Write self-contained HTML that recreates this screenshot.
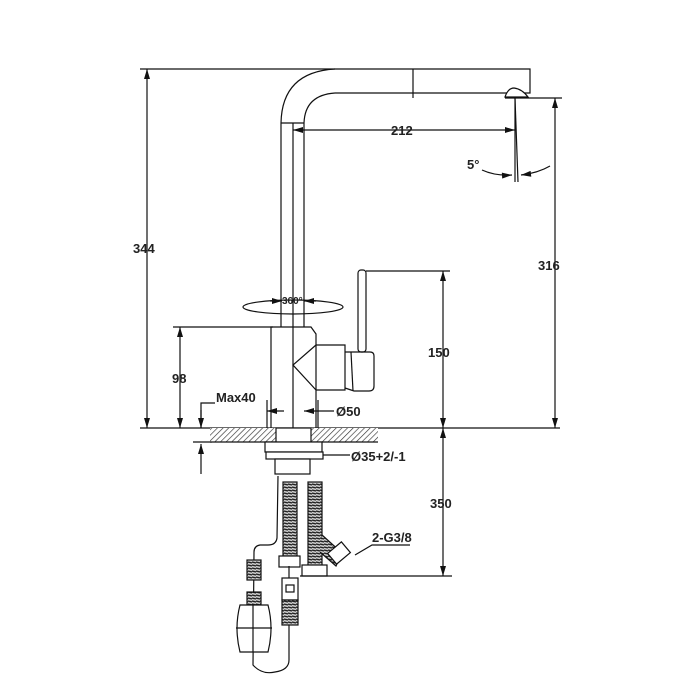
<!DOCTYPE html>
<html><head><style>html,body{margin:0;padding:0;background:#fff}svg{display:block}text{font-family:"Liberation Sans",Arial,sans-serif;font-weight:bold;fill:#222}</style></head>
<body>
<svg width="700" height="700" viewBox="0 0 700 700" xmlns="http://www.w3.org/2000/svg">
<defs>
<marker id="a" viewBox="0 0 10 6" refX="10" refY="3" markerWidth="9" markerHeight="5" orient="auto-start-reverse"><path d="M0,0 L10,3 L0,6 z" fill="#111"/></marker>
<pattern id="h" width="4" height="4" patternUnits="userSpaceOnUse" patternTransform="rotate(45)"><rect width="4" height="4" fill="#fff"/><line x1="0" y1="0" x2="0" y2="4" stroke="#333" stroke-width="1.3"/></pattern>
<pattern id="c" width="4" height="3" patternUnits="userSpaceOnUse"><rect width="4" height="3" fill="#ccc"/><line x1="0" y1="1" x2="4" y2="2" stroke="#222" stroke-width="1.4"/></pattern>
</defs>
<g stroke="#111" stroke-width="1.2" fill="none">
<line x1="140" y1="69" x2="335" y2="69"/>
<line x1="140" y1="428" x2="560" y2="428"/>
<line x1="147" y1="69" x2="147" y2="428" marker-start="url(#a)" marker-end="url(#a)"/>
<line x1="505" y1="98" x2="562" y2="98"/>
<line x1="555" y1="98" x2="555" y2="428" marker-start="url(#a)" marker-end="url(#a)"/>
<path d="M335,69 L530,69 L530,93 L335,93"/>
<line x1="413" y1="69" x2="413" y2="98"/>
<path d="M335,69 Q282,72 281,123 L281,327"/>
<path d="M335,93 Q305,95 304,123 L304,327"/>
<line x1="281" y1="123" x2="304" y2="123"/>
<line x1="293" y1="123" x2="293" y2="428"/>
<path d="M505,97 Q508,88 514,88 Q522,89 528,97 z" fill="#fff"/>
<line x1="293" y1="130" x2="515" y2="130" marker-start="url(#a)" marker-end="url(#a)"/>
<line x1="515" y1="98" x2="518" y2="182"/>
<line x1="515" y1="98" x2="515" y2="182"/>
<path d="M482,170 Q495,176 512,175" marker-end="url(#a)"/>
<path d="M550,166 Q538,173 521,175" marker-end="url(#a)"/>
<rect x="358" y="270" width="8" height="82" rx="3" fill="#fff"/>
<line x1="366" y1="271" x2="450" y2="271"/>
<line x1="443" y1="271" x2="443" y2="428" marker-start="url(#a)" marker-end="url(#a)"/>
<ellipse cx="293" cy="307" rx="50" ry="7"/>
<line x1="270" y1="301" x2="282" y2="301" marker-end="url(#a)"/>
<line x1="316" y1="301" x2="304" y2="301" marker-end="url(#a)"/>
<path d="M271,327 L311,327 L316,334 L316,428 L271,428 z" fill="#fff"/>
<line x1="293" y1="327" x2="293" y2="428"/>
<path d="M316,345 L345,345 L345,390 L316,390"/>
<path d="M316,345 L293,365 L316,390"/>
<path d="M345,352 L370,352 Q374,352 374,356 L374,386 Q374,391 369,391 L354,391 L345,388"/>
<line x1="351" y1="352" x2="353" y2="391"/>
<line x1="173" y1="327" x2="273" y2="327"/>
<line x1="180" y1="327" x2="180" y2="428" marker-start="url(#a)" marker-end="url(#a)"/>
<polyline points="201,428 201,403 215,403"/>
<line x1="201" y1="410" x2="201" y2="428" marker-end="url(#a)"/>
<line x1="201" y1="474" x2="201" y2="444" marker-end="url(#a)"/>
<line x1="193" y1="442" x2="212" y2="442"/>
<line x1="267" y1="400" x2="267" y2="428"/>
<line x1="318" y1="400" x2="318" y2="428"/>
<line x1="267" y1="411" x2="284" y2="411" marker-start="url(#a)"/>
<line x1="304" y1="411" x2="334" y2="411" marker-start="url(#a)"/>
<rect x="210" y="428" width="168" height="14" fill="url(#h)" stroke="none"/>
<line x1="210" y1="442" x2="378" y2="442"/>
<rect x="276" y="428" width="35" height="14" fill="#fff"/>
<rect x="265" y="442" width="57" height="10" fill="#fff"/>
<rect x="266" y="452" width="57" height="7" fill="#fff"/>
<rect x="275" y="459" width="35" height="15" fill="#fff"/>
<line x1="323" y1="455" x2="350" y2="455"/>
<rect x="283" y="482" width="14" height="74" fill="url(#c)"/>
<rect x="279" y="556" width="21" height="11" fill="#fff"/>
<rect x="308" y="482" width="14" height="84" fill="url(#c)"/>
<path d="M322,535 L342,553 L336,566 L320,552" fill="url(#c)"/>
<rect x="330" y="546" width="18" height="14" transform="rotate(-40 339 553)" fill="#fff"/>
<rect x="302" y="565" width="25" height="11" fill="#fff"/>
<polyline points="355,555 372,545 410,545"/>
<line x1="300" y1="576" x2="452" y2="576"/>
<line x1="443" y1="428" x2="443" y2="576" marker-start="url(#a)" marker-end="url(#a)"/>
<path d="M278,476 L277,538 Q276,545 268,545 L260,545 Q254,546 254,552 L253,665 Q262,675 275,672 Q289,670 289,660 L289,566"/>
<rect x="247" y="560" width="14" height="20" fill="url(#c)"/>
<rect x="247" y="592" width="14" height="13" fill="url(#c)"/>
<path d="M240,605 L268,605 Q274,628 268,652 L240,652 Q234,628 240,605 z" fill="#fff"/>
<line x1="236" y1="628" x2="272" y2="628"/>
<line x1="253" y1="605" x2="253" y2="652"/>
<rect x="282" y="578" width="16" height="22" fill="#fff"/>
<rect x="286" y="585" width="8" height="7"/>
<rect x="282" y="600" width="16" height="25" fill="url(#c)"/>
</g>
<g font-size="13">
<text x="133" y="253">344</text>
<text x="538" y="270">316</text>
<text x="391" y="135">212</text>
<text x="467" y="169">5°</text>
<text x="282" y="304" font-size="10">360°</text>
<text x="428" y="357">150</text>
<text x="172" y="383">98</text>
<text x="216" y="402">Max40</text>
<text x="336" y="416">Ø50</text>
<text x="351" y="461">Ø35+2/-1</text>
<text x="430" y="508">350</text>
<text x="372" y="542">2-G3/8</text>
</g>
</svg>
</body></html>
